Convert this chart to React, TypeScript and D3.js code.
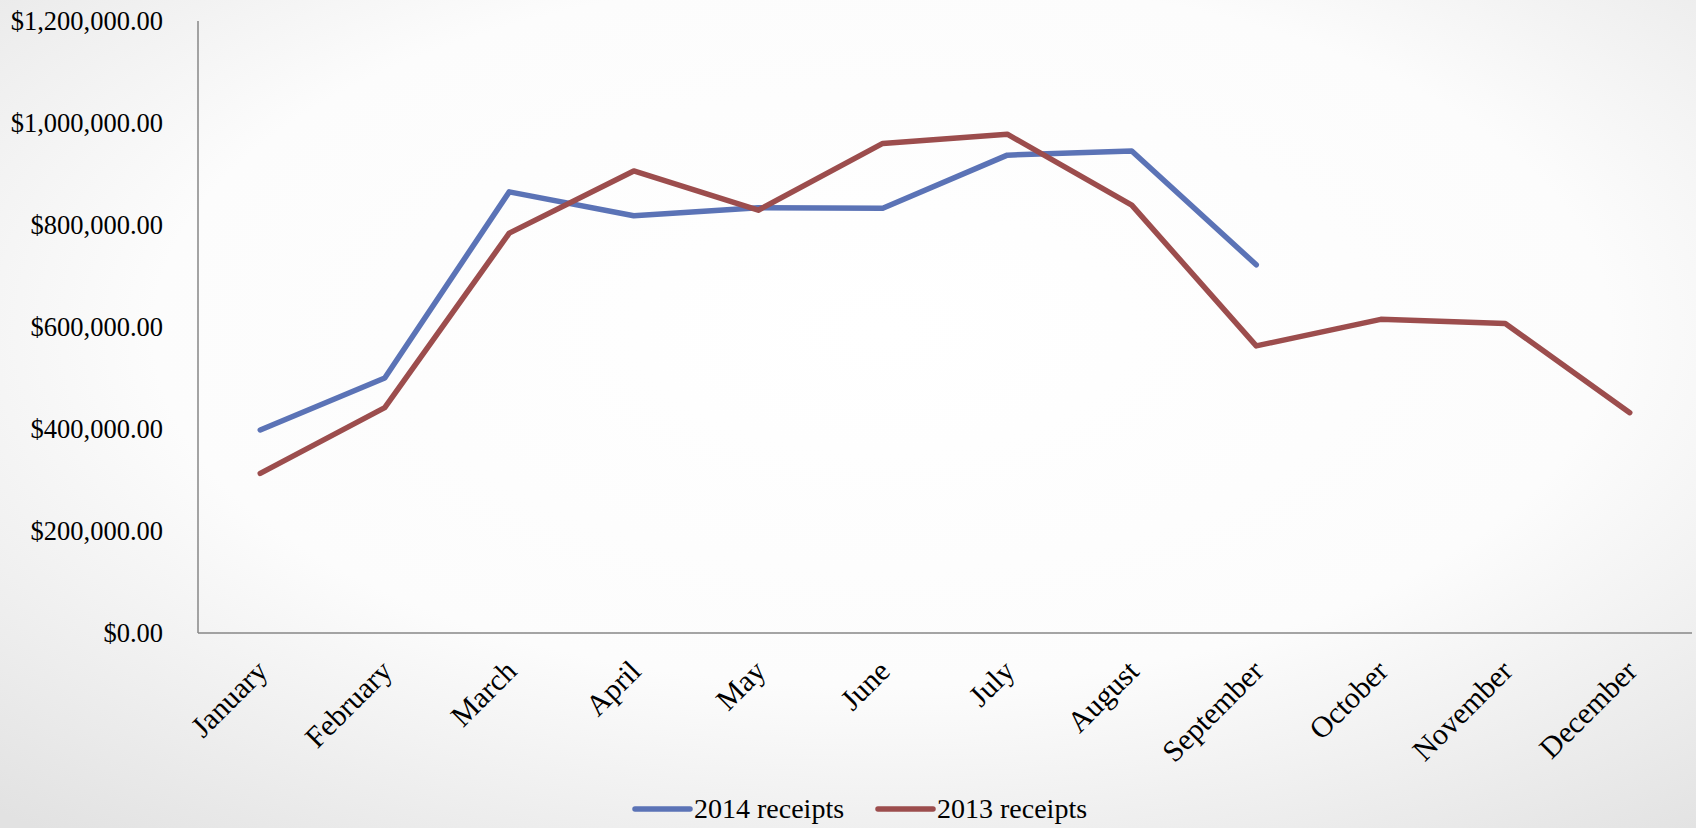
import { useMemo } from 'react'
import * as d3 from 'd3'

const months = ['January', 'February', 'March', 'April', 'May', 'June', 'July', 'August', 'September', 'October', 'November', 'December']
const receipts2014 = [398000, 500000, 865000, 818000, 834000, 833000, 937000, 945000, 722000]
const receipts2013 = [313000, 442000, 784000, 906000, 829000, 960000, 978000, 839000, 563000, 615000, 607000, 432000]
const yTicks = [0, 200000, 400000, 600000, 800000, 1000000, 1200000]

const W = 1696
const H = 828
const FONT = '"Liberation Serif", "Times New Roman", serif'

const series = [
  { name: '2014 receipts', values: receipts2014, color: '#5b73b6' },
  { name: '2013 receipts', values: receipts2013, color: '#9c4d4d' },
]

export default function App() {
  const x = useMemo(() => d3.scaleBand<string>().domain(months).range([198, 1692]), [])
  const y = useMemo(() => d3.scaleLinear().domain([0, 1200000]).range([633, 21]), [])
  const fmt = d3.format('$,.2f')

  const line = d3.line<number>()
    .x((_, i) => (x(months[i]) ?? 0) + x.bandwidth() / 2)
    .y(d => y(d))

  return (
    <svg width={W} height={H} style={{ position: 'absolute', left: 0, top: 0, display: 'block' }}>
      <defs>
        <radialGradient id="bg" cx="52%" cy="40%" r="78%">
          <stop offset="0%" stopColor="#ffffff" />
          <stop offset="55%" stopColor="#fcfcfc" />
          <stop offset="100%" stopColor="#e2e2e2" />
        </radialGradient>
      </defs>
      <rect width={W} height={H} fill="url(#bg)" />

      {/* y labels */}
      {yTicks.map(t => (
        <text key={t} x={163} y={y(t)} dy="0.33em" textAnchor="end"
          fontFamily={FONT} fontSize={26.5} fill="#000">{fmt(t)}</text>
      ))}

      {/* axes */}
      <line x1={198} x2={198} y1={21} y2={633} stroke="#878787" strokeWidth={1.5} />
      <line x1={198} x2={1692} y1={633} y2={633} stroke="#878787" strokeWidth={1.5} />

      {/* x labels */}
      {months.map(m => {
        const cx = (x(m) ?? 0) + x.bandwidth() / 2
        return (
          <text key={m} transform={`translate(${cx + 9},${673}) rotate(-45)`} textAnchor="end"
            fontFamily={FONT} fontSize={30} fill="#000">{m}</text>
        )
      })}

      {/* lines */}
      {series.map(s => (
        <path key={s.name} d={line(s.values) ?? ''} fill="none" stroke={s.color}
          strokeWidth={5.5} strokeLinejoin="round" strokeLinecap="round" />
      ))}

      {/* legend */}
      {series.map((s, i) => {
        const lx = 635 + i * 243
        return (
          <g key={s.name}>
            <line x1={lx} x2={lx + 55} y1={809} y2={809} stroke={s.color} strokeWidth={5.5} strokeLinecap="round" />
            <text x={lx + 59} y={818} fontFamily={FONT} fontSize={28} fill="#000">{s.name}</text>
          </g>
        )
      })}
    </svg>
  )
}
